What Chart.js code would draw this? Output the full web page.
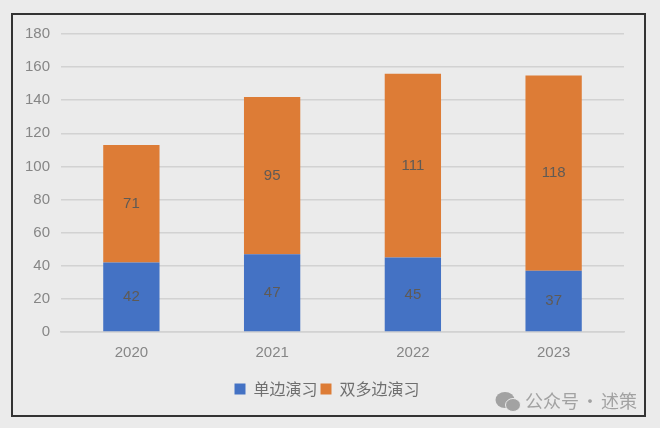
<!DOCTYPE html>
<html>
<head>
<meta charset="utf-8">
<script src="https://cdn.jsdelivr.net/npm/chart.js@4"></script>
<style>
html, body { margin: 0; padding: 0; background: #ebebeb; }
#wrap { position: relative; width: 660px; height: 428px; overflow: hidden; }
#frame { position: absolute; left: 11px; top: 13px; width: 631px; height: 400px; border: 2px solid #333; }
#mark { position: absolute; left: 525px; top: 387px; font: 18px "Noto Sans CJK SC"; color: #a2a2a2; white-space: pre; word-spacing: -2px; }
#icon { position: absolute; left: 495px; top: 391px; }
canvas { position: absolute; left: 0; top: 0; }
</style>
</head>
<body>
<div id="wrap">
  <div id="frame"></div>
  <canvas id="mycanvas" width="660" height="428"></canvas>
  <svg id="icon" width="26" height="22" viewBox="0 0 26 22">
    <ellipse cx="10" cy="9" rx="9.5" ry="8" fill="#a2a2a2"/>
    <ellipse cx="18" cy="14" rx="7.5" ry="6.5" fill="#a2a2a2" stroke="#ebebeb" stroke-width="1"/>
  </svg>
  <div id="mark">公众号 · 述策</div>
</div>
<script>
var years = ['2020', '2021', '2022', '2023'];
var unilateral = [42, 47, 45, 37];
var multilateral = [71, 95, 111, 118];

// writes each value in the middle of its bar segment
var barValues = {
    id: 'barValues',
    afterDatasetsDraw: function(chart){
        var ctx = chart.ctx;
        ctx.save();
        ctx.font = '15px "Liberation Sans"';
        ctx.fillStyle = '#5f5a55';
        ctx.textAlign = 'center';
        ctx.textBaseline = 'middle';
        chart.data.datasets.forEach(function(ds, d){
            chart.getDatasetMeta(d).data.forEach(function(bar, i){
                var mid = bar.getCenterPoint();
                ctx.fillText(ds.data[i], mid.x, mid.y);
            });
        });
        ctx.restore();
    }
};

// the legend sits a bit right of the padded chart centre
var legendShift = {
    id: 'legendShift',
    afterLayout: function(chart){
        chart.legend.left += 15;
        chart.legend.right += 15;
    }
};

var LineGraph = new Chart(document.getElementById('mycanvas'), {
    type: 'bar',
    data: {
        labels: years,
        datasets: [
            { label: '单边演习', data: unilateral, backgroundColor: '#4472c4' },
            { label: '双多边演习', data: multilateral, backgroundColor: '#dd7c36' }
        ]
    },
    options: {
        responsive: false,
        animation: false,
        categoryPercentage: 1,
        barPercentage: 0.4,
        layout: { padding: { top: 34, right: 36, bottom: 21, left: 0 } },
        plugins: {
            tooltip: { enabled: false },
            legend: {
                position: 'bottom',
                labels: {
                    boxWidth: 11,
                    boxHeight: 11,
                    padding: 3,
                    color: '#6f6f6f',
                    font: { family: '"Noto Sans CJK SC"', size: 16 }
                }
            }
        },
        scales: {
            x: {
                stacked: true,
                afterFit: function(scale){ scale.height = 46; },
                grid: { display: false },
                border: { color: '#d2d2d2', width: 1.5 },
                ticks: { color: '#868686', padding: 4, font: { family: '"Liberation Sans"', size: 15 } }
            },
            y: {
                stacked: true,
                min: 0,
                max: 180,
                afterFit: function(scale){ scale.width = 61; },
                grid: { color: '#d2d2d2', lineWidth: 1.5, drawTicks: false },
                border: { display: false },
                ticks: { stepSize: 20, color: '#868686', padding: 11, font: { family: '"Liberation Sans"', size: 15 } }
            }
        }
    },
    plugins: [barValues, legendShift]
});
</script>
</body>
</html>
